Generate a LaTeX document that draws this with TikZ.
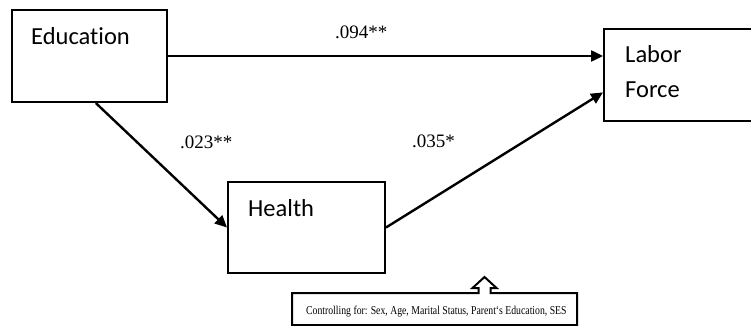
\documentclass[tikz,border=0pt]{standalone}
\usepackage{fontspec}
\setmainfont{Liberation Serif}
\newfontfamily\boxfont[Ligatures={NoCommon}]{Carlito}
\usetikzlibrary{arrows.meta,calc}
\tikzset{
  varbox/.style={draw=black, line width=2pt, rectangle, inner sep=0pt},
  varname/.style={font=\boxfont\fontsize{24.5}{28}\selectfont, inner sep=0pt, anchor=base west},
  coef/.style={font=\fontsize{19}{22}\selectfont, inner sep=0pt, anchor=base west},
  path/.style={line width=2.4pt, -{Triangle[length=12pt,width=11pt]}},
}
\begin{document}
\begin{tikzpicture}[x=1pt,y=-1pt]
\useasboundingbox (0,0) rectangle (751,326);
\clip (0,0) rectangle (751,326);
% boxes
\node[varbox, minimum width=155pt, minimum height=92pt] (edu) at (89.5,56) {};
\node[varbox, minimum width=160pt, minimum height=92pt] (labor) at (684,75) {};
\node[varbox, minimum width=157pt, minimum height=91pt] (health) at (306.5,227.5) {};
% box texts
\node[varname] (edut) at (31,44.5) {Education};
\node[varname] (labt1) at (625,63) {Labor};
\node[varname] (labt2) at (625,97.5) {Force};
\node[varname] (healtht) at (248,216) {Health};
% connectors
\draw[path] (edu.east) -- (edu.east -| labor.west);
\draw[path] ($(edu.south west)!0.54!(edu.south east)$) -- (health.west);
\draw[path] (health.east) -- ($(labor.north west)!0.685!(labor.south west)$);
% coefficients
\node[coef] (c1) at (335,39) {.094**};
\node[coef] (c2) at (180,148) {.023**};
\node[coef] (c3) at (412,147) {.035*};
% control box with block arrow
\coordinate (cbl) at (292,325);
\coordinate (cbr) at (577,325);
\draw[line width=2pt, line join=miter] (cbl) -- (292,293) -- (478.5,293) -- (478.5,288) -- (472.5,288) -- (484.5,277) -- (496.5,288) -- (490.5,288) -- (490.5,293) -- (577,293) -- (cbr) -- cycle;
\node[font=\fontsize{12}{14}\selectfont, inner sep=0pt, anchor=base west] (ctrl) at (306,314.5) {\scalebox{0.811}[1]{Controlling for: Sex, Age, Marital Status, Parent`s Education, SES}};
\end{tikzpicture}
\end{document}
